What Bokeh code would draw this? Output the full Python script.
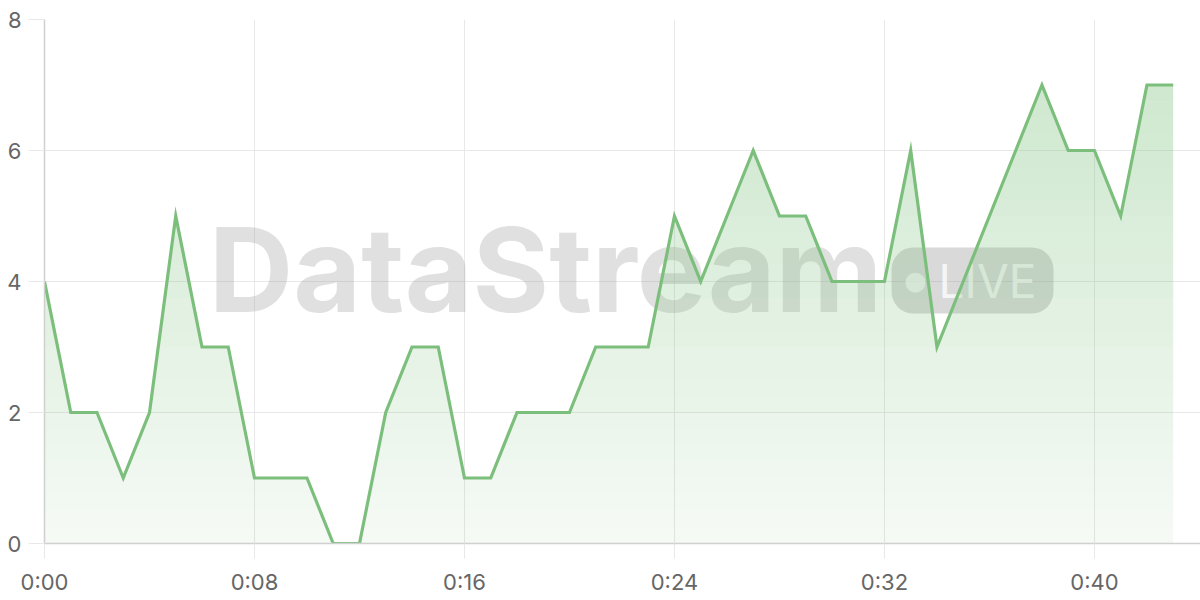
import numpy as np
from bokeh.plotting import figure
from bokeh.models import Range1d, FixedTicker, Label, BoxAnnotation, ColumnDataSource
from bokeh.embed import file_html
from bokeh.resources import INLINE

# ---- data ----
seconds = list(range(44))
values = [4, 2, 2, 1, 2, 5, 3, 3, 1, 1, 1, 0, 0, 2, 3, 3, 1, 1, 2, 2, 2, 3, 3, 3,
          5, 4, 5, 6, 5, 5, 4, 4, 4, 6, 3, 4, 5, 6, 7, 6, 6, 5, 7, 7]
x_ticks = [0, 8, 16, 24, 32, 40]
x_tick_labels = ["0:00", "0:08", "0:16", "0:24", "0:32", "0:40"]
y_ticks = [0, 2, 4, 6, 8]

LINE = "#7cbf7c"
FONT = "Inter"

p = figure(width=1200, height=600, output_backend="svg", toolbar_location=None,
           x_range=Range1d(0, 44.04), y_range=Range1d(0, 8),
           min_border_left=44, min_border_right=0, min_border_top=19, min_border_bottom=57)
p.outline_line_color = None
p.background_fill_color = "white"
p.border_fill_color = "white"

# grids
for g in (p.xgrid, p.ygrid):
    g.grid_line_color = "#e8e8e8"
    g.grid_line_width = 1
p.xgrid.ticker = FixedTicker(ticks=x_ticks)
p.ygrid.ticker = FixedTicker(ticks=y_ticks)

# axes
p.xaxis.ticker = FixedTicker(ticks=x_ticks)
p.xaxis.major_label_overrides = {t: l for t, l in zip(x_ticks, x_tick_labels)}
p.yaxis.ticker = FixedTicker(ticks=y_ticks)
for ax in (p.xaxis[0], p.yaxis[0]):
    ax.axis_line_color = "#d0d0d0"
    ax.axis_line_width = 1.5
    ax.major_tick_line_color = "#e8e8e8"
    ax.major_tick_in = 0
    ax.minor_tick_line_color = None
    ax.major_label_text_color = "#666666"
    ax.major_label_text_font = FONT
    ax.major_label_text_font_size = "22px"
p.xaxis.major_tick_out = 15
p.yaxis.major_tick_out = 16
p.xaxis.major_label_standoff = 10
p.yaxis.major_label_standoff = 7

# ---- watermark (behind the series) ----
wm = Label(x=19.09, y=4.18, text="DataStream", text_align="center",
           text_baseline="alphabetic", text_font=FONT, text_font_style="bold",
           text_font_size="117px", text_color="#999999", text_alpha=0.3, level="underlay")
p.add_layout(wm)
pill = BoxAnnotation(left=32.27, right=38.44, bottom=3.51, top=4.52,
                     fill_color="#808080", fill_alpha=0.3, line_alpha=0,
                     border_radius=22, level="underlay")
p.add_layout(pill)
dot = BoxAnnotation(left=32.80, right=33.56, bottom=3.83, top=4.135,
                    fill_color="white", fill_alpha=0.65, line_alpha=0,
                    border_radius=10, level="underlay")
p.add_layout(dot)
live = Label(x=34.06, y=4.01, text="LIVE", text_align="left", text_baseline="alphabetic",
             text_font=FONT, text_font_style="normal", text_font_size="46px",
             text_color="white", text_alpha=0.75, level="underlay")
p.add_layout(live)

# ---- gradient area fill: horizontal bands of growing opacity ----
xs = np.array(seconds, dtype=float)
vs = np.array(values, dtype=float)
levels = np.arange(0.0, 8.0001, 0.25)

# insert the points where the series crosses each band edge, so band edges stay horizontal
dx = [xs[0]]
for i in range(len(xs) - 1):
    x0, x1, y0, y1 = xs[i], xs[i + 1], vs[i], vs[i + 1]
    if y1 != y0:
        lo, hi = min(y0, y1), max(y0, y1)
        cross = levels[(levels > lo) & (levels < hi)]
        t = (cross - y0) / (y1 - y0)
        dx.extend(sorted(x0 + t * (x1 - x0)))
    dx.append(x1)
dx = np.array(dx)
dv = np.interp(dx, xs, vs)

for lo, hi in zip(levels[:-1], levels[1:]):
    if lo >= vs.max():
        break
    mid = min((lo + hi) / 2, vs.max())
    alpha = 0.07 + 0.30 * mid / vs.max()
    p.varea(x=dx, y1=np.minimum(dv, lo), y2=np.minimum(dv, hi),
            fill_color=LINE, fill_alpha=alpha)

# ---- line ----
src = ColumnDataSource(dict(x=seconds, y=values))
p.line("x", "y", source=src, line_color=LINE, line_width=3.2, line_join="miter")

open("out.html", "w").write(file_html(p, INLINE))
